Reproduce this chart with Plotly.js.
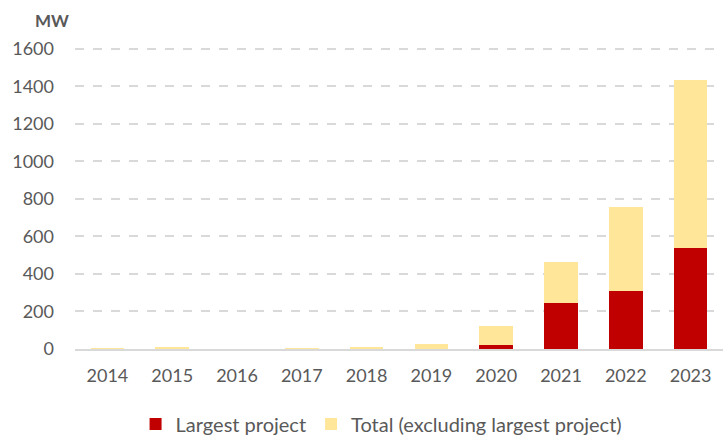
<!DOCTYPE html>
<html><head><meta charset="utf-8">
<script src="https://cdn.plot.ly/plotly-3.0.1.min.js"></script>
<style>html,body{margin:0;padding:0;background:#fff}#chart{width:725px;height:436px}</style>
</head><body><div id="chart"></div>
<script>
const years = ["2014","2015","2016","2017","2018","2019","2020","2021","2022","2023"];
const largestProject = [0, 0, 0, 0, 0, 0, 20, 247, 307, 537];
const totalExcludingLargest = [7, 12, 2, 6, 12, 25, 104, 219, 448, 896];
const yTicks = [0, 200, 400, 600, 800, 1000, 1200, 1400, 1600];

const fontFam = "Lato, 'Open Sans', sans-serif";
const grey = "#595959";

const data = [
  {type: "bar", x: years, y: largestProject, name: "Largest project",
   marker: {color: "#C00000"}},
  {type: "bar", x: years, y: totalExcludingLargest, name: "Total (excluding largest project)",
   marker: {color: "#FFE699"}}
];

const layout = {
  width: 725, height: 436,
  margin: {l: 75, r: 2, t: 46, b: 87, autoexpand: false},
  barmode: "stack",
  bargap: 0.48,
  paper_bgcolor: "#fff", plot_bgcolor: "#fff",
  font: {family: fontFam, size: 18, color: grey},
  xaxis: {
    type: "category",
    showgrid: false,
    showline: true, linecolor: "#d9d9d9", linewidth: 2,
    ticks: "", tickfont: {size: 18, color: grey},
    ticklabelstandoff: 9, automargin: false,
    fixedrange: true
  },
  yaxis: {
    range: [0, 1615],
    tickvals: yTicks,
    showgrid: true, gridcolor: "#d9d9d9", gridwidth: 2, griddash: "dash",
    zeroline: false, showline: false,
    ticks: "", ticklen: 0,
    ticklabelstandoff: 20, automargin: false,
    tickfont: {size: 18, color: grey},
    fixedrange: true
  },
  showlegend: true,
  legend: {orientation: "h", xref: "container", yref: "container",
           x: 0.187, xanchor: "left", y: 0.0275, yanchor: "middle",
           font: {size: 20, color: grey}, traceorder: "normal", itemwidth: 30},
  annotations: [{
    text: "<b>MW</b>", xref: "paper", yref: "paper", x: -0.0355, y: 1.085,
    xanchor: "center", yanchor: "middle", showarrow: false,
    font: {size: 17, color: grey, family: fontFam}
  }]
};

Plotly.newPlot("chart", data, layout, {displayModeBar: false, staticPlot: true});
</script></body></html>
